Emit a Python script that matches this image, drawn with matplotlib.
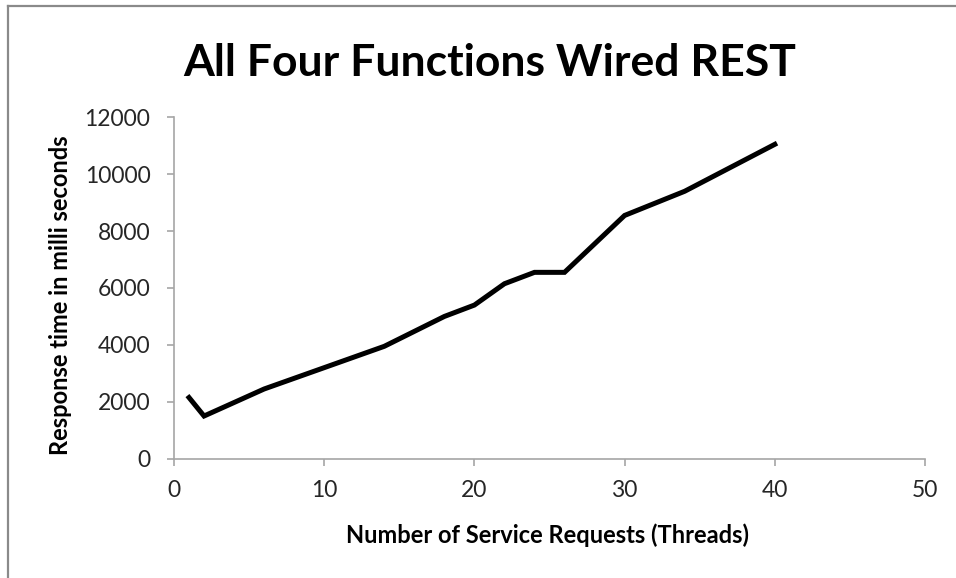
import matplotlib
matplotlib.use("Agg")
import matplotlib.pyplot as plt
from matplotlib.lines import Line2D

plt.rcParams['font.family'] = ['Lato', 'DejaVu Sans']

threads = [1, 2, 6, 10, 14, 18, 20, 22, 24, 26, 30, 34, 38, 40]
response_ms = [2150, 1500, 2450, 3200, 3950, 5000, 5400, 6150, 6550, 6550, 8550, 9400, 10500, 11050]

x_ticks = [0, 10, 20, 30, 40, 50]
y_ticks = [0, 2000, 4000, 6000, 8000, 10000, 12000]

W, H = 956, 578
fig = plt.figure(figsize=(W / 100, H / 100), dpi=100)
fig.patch.set_facecolor('white')

# outer frame (left and top edges)
frame_color = '#8a8a8a'
fig.add_artist(Line2D([8 / W, 8 / W], [0, 1 - 5.5 / H], transform=fig.transFigure,
                      color=frame_color, lw=1.6))
fig.add_artist(Line2D([8 / W, 1], [1 - 5.5 / H, 1 - 5.5 / H], transform=fig.transFigure,
                      color=frame_color, lw=1.6))

ax = fig.add_axes([174 / W, 1 - 458.7 / H, (925 - 174) / W, (458.7 - 117.3) / H])
ax.plot(threads, response_ms, color='black', lw=3.6, solid_joinstyle='miter')

ax.set_xlim(0, 50)
ax.set_ylim(0, 12000)
ax.set_xticks(x_ticks)
ax.set_yticks(y_ticks)
ax.set_xticklabels([str(v) for v in x_ticks])
ax.set_yticklabels([str(v) for v in y_ticks])

axis_color = '#a6a6a6'
for side in ('top', 'right'):
    ax.spines[side].set_visible(False)
for side in ('left', 'bottom'):
    ax.spines[side].set_color(axis_color)
    ax.spines[side].set_linewidth(1.2)
ax.tick_params(axis='both', direction='out', length=5, width=1.2, color=axis_color,
               labelsize=16.5, labelcolor='#262626')
ax.tick_params(axis='x', pad=10)
ax.tick_params(axis='y', pad=12)

ax.set_xlabel('Number of Service Requests (Threads)', fontsize=17, fontweight='bold',
              va='center')
ax.set_ylabel('Response time in milli seconds', fontsize=17, fontweight='bold',
              va='center')
ax.xaxis.set_label_coords(0.5 * (338 + 757) / 751 - 174 / 751, (458.7 - 535) / 341.4)
ax.yaxis.set_label_coords((60 - 174) / 751, (458.7 - 295) / 341.4)

fig.text(490 / W, 1 - 63 / H, 'All Four Functions Wired REST', ha='center', va='center',
         fontsize=32, fontweight='bold')

fig.savefig('out.png', dpi=100, facecolor='white')
